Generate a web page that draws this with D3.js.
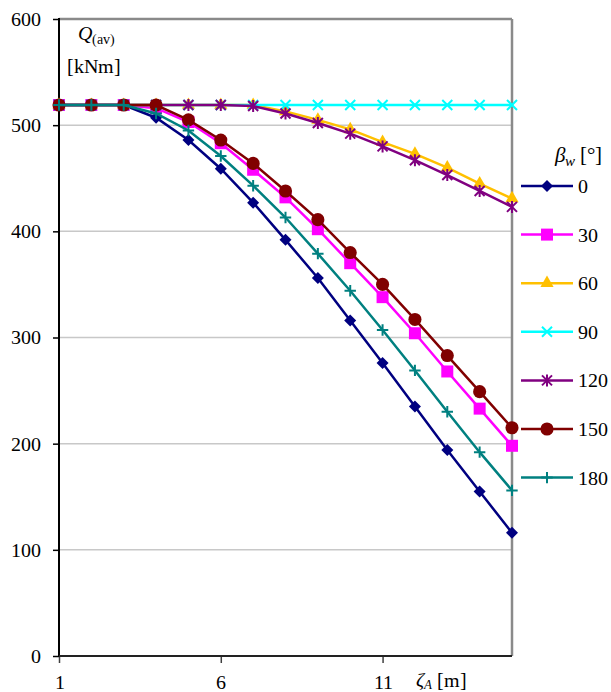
<!DOCTYPE html>
<html>
<head>
<meta charset="utf-8">
<script src="https://cdn.jsdelivr.net/npm/d3@7"></script>
<style>
  @font-face { font-family: "ChartSerif"; src: local("Liberation Serif"), local("LiberationSerif"), local("Tinos"); font-style: normal; }
  @font-face { font-family: "ChartSerif"; src: local("Liberation Serif Italic"), local("LiberationSerif-Italic"), local("Tinos Italic"); font-style: italic; }
  body { margin: 0; }
  #chart_div text { font-family: "ChartSerif", "Liberation Serif", Tinos, "Times New Roman"; }
</style>
</head>
<body>
<div id="chart_div"></div>
<script>
  // data
  var zetaA = [1, 2, 3, 4, 5, 6, 7, 8, 9, 10, 11, 12, 13, 14, 15];
  var betaLabels = ["0", "30", "60", "90", "120", "150", "180"];
  var q0   = [519, 519, 519, 507, 486, 459, 427, 392, 356, 316, 276, 235, 194, 155, 116];
  var q30  = [519, 519, 519, 516, 503, 483, 458, 432, 402, 370, 338, 304, 268, 233, 198];
  var q60  = [519, 519, 519, 519, 519, 519, 519, 513, 505, 496, 484, 473, 460, 445, 431];
  var q90  = [519, 519, 519, 519, 519, 519, 519, 519, 519, 519, 519, 519, 519, 519, 519];
  var q120 = [519, 519, 519, 519, 519, 519, 518, 511, 502, 492, 480, 467, 453, 438, 423];
  var q150 = [519, 519, 519, 519, 505, 486, 464, 438, 411, 380, 350, 317, 283, 249, 215];
  var q180 = [519, 519, 519, 511, 495, 471, 443, 413, 379, 344, 307, 269, 230, 192, 156];
  var yTicks = [0, 100, 200, 300, 400, 500, 600];
  var xTicks = [1, 6, 11];

  var allSeries = [q0, q30, q60, q90, q120, q150, q180];
  var colors = ["#000080", "#ff00ff", "#ffc000", "#00ffff", "#800080", "#800000", "#008080"];

  // custom marker shapes
  var symDiamond = { draw: function (c, s) { var r = Math.sqrt(s) / 2; c.moveTo(0, -r); c.lineTo(r, 0); c.lineTo(0, r); c.lineTo(-r, 0); c.closePath(); } };
  var symCross = { draw: function (c, s) { var r = Math.sqrt(s) / 2; c.moveTo(-r, -r); c.lineTo(r, r); c.moveTo(-r, r); c.lineTo(r, -r); } };
  var symStar = { draw: function (c, s) { var r = Math.sqrt(s) / 2; c.moveTo(-r, -r); c.lineTo(r, r); c.moveTo(-r, r); c.lineTo(r, -r); c.moveTo(0, -r * 1.2); c.lineTo(0, r * 1.2); } };
  var symPlus = { draw: function (c, s) { var r = Math.sqrt(s) / 2; c.moveTo(-r, 0); c.lineTo(r, 0); c.moveTo(0, -r); c.lineTo(0, r); } };

  var markers = [
    { type: symDiamond, size: 144, filled: true },
    { type: d3.symbolSquare, size: 144, filled: true },
    { type: d3.symbolTriangle, size: 75, filled: true },
    { type: symCross, size: 100, filled: false },
    { type: symStar, size: 100, filled: false },
    { type: d3.symbolCircle, size: 135, filled: true },
    { type: symPlus, size: 130, filled: false }
  ];

  var margin = { top: 19, right: 99, bottom: 36, left: 59 };
  var fullW = 611, fullH = 692;
  var width = fullW - margin.left - margin.right;
  var height = fullH - margin.top - margin.bottom;

  var root = d3.select("#chart_div")
    .append("svg")
    .attr("width", fullW)
    .attr("height", fullH);

  var svg = root.append("g")
    .attr("transform", "translate(" + margin.left + "," + margin.top + ")");

  var x = d3.scaleLinear().domain([1, 15]).range([0, width]);
  var y = d3.scaleLinear().domain([0, 600]).range([height, 0]);

  // gridlines
  svg.selectAll("line.grid")
    .data(yTicks.filter(function (d) { return d > 0 && d < 600; }))
    .enter()
    .append("line")
    .attr("class", "grid")
    .attr("x1", 0).attr("x2", width)
    .attr("y1", function (d) { return y(d); })
    .attr("y2", function (d) { return y(d); })
    .attr("stroke", "#c8c8c8")
    .attr("stroke-width", 1.5);

  // plot frame (top and right in grey)
  svg.append("line").attr("x1", 0).attr("x2", width).attr("y1", y(600)).attr("y2", y(600))
    .attr("stroke", "#8a8a8a").attr("stroke-width", 2.5);
  svg.append("line").attr("x1", width).attr("x2", width).attr("y1", 0).attr("y2", height)
    .attr("stroke", "#8a8a8a").attr("stroke-width", 2.5);

  // Y axis
  var yAxis = svg.append("g")
    .call(d3.axisLeft(y).tickValues(yTicks).tickSize(6).tickPadding(12))
    .attr("font-family", null)
    .attr("font-size", 20);
  yAxis.select(".domain").remove();
  yAxis.selectAll("line").attr("stroke", "#000").attr("stroke-width", 1.5);
  yAxis.selectAll("text").attr("fill", "#000");

  // X axis
  var xAxis = svg.append("g")
    .attr("transform", "translate(0," + height + ")")
    .call(d3.axisBottom(x).tickValues(xTicks).tickSize(7).tickPadding(12))
    .attr("font-family", null)
    .attr("font-size", 20);
  xAxis.select(".domain").remove();
  xAxis.selectAll("line").attr("stroke", "#404040").attr("stroke-width", 1.5);
  xAxis.selectAll("text").attr("fill", "#000");

  svg.append("line").attr("x1", 0).attr("x2", 0).attr("y1", -1).attr("y2", height + 1)
    .attr("stroke", "#000").attr("stroke-width", 2);
  svg.append("line").attr("x1", 0).attr("x2", width).attr("y1", height).attr("y2", height)
    .attr("stroke", "#222").attr("stroke-width", 2);

  // series
  var line = d3.line()
    .x(function (d, i) { return x(zetaA[i]); })
    .y(function (d) { return y(d); });

  allSeries.forEach(function (vals, k) {
    svg.append("path")
      .datum(vals)
      .attr("fill", "none")
      .attr("stroke", colors[k])
      .attr("stroke-width", 2.5)
      .attr("d", line);

    var m = markers[k];
    svg.selectAll("path.mk" + k)
      .data(vals)
      .enter()
      .append("path")
      .attr("class", "mk" + k)
      .attr("transform", function (d, i) { return "translate(" + x(zetaA[i]) + "," + y(d) + ")"; })
      .attr("d", d3.symbol().type(m.type).size(m.size))
      .attr("fill", m.filled ? colors[k] : "none")
      .attr("stroke", colors[k])
      .attr("stroke-width", m.filled ? 0 : 2);
  });

  // axis titles
  var qLab = root.append("text").attr("x", 78).attr("y", 40).attr("font-size", 20);
  qLab.append("tspan").attr("font-style", "italic").text("Q");
  qLab.append("tspan").attr("dy", 4).attr("font-size", 14).text("(av)");
  root.append("text").attr("x", 67).attr("y", 73).attr("font-size", 20).text("[kNm]");

  var zLab = root.append("text").attr("x", 416).attr("y", 687).attr("font-size", 20);
  zLab.append("tspan").attr("font-style", "italic").text("ζ");
  zLab.append("tspan").attr("dy", 2).attr("font-style", "italic").attr("font-size", 13).text("A");
  zLab.append("tspan").attr("dy", -2).text(" [m]");

  // legend
  var lt = root.append("text").attr("x", 555).attr("y", 162).attr("font-size", 21);
  lt.append("tspan").attr("font-style", "italic").text("β");
  lt.append("tspan").attr("dy", 4).attr("font-style", "italic").attr("font-size", 15).text("w");
  lt.append("tspan").attr("dy", -4).text(" [°]");

  var legend = root.selectAll("g.leg")
    .data(betaLabels)
    .enter()
    .append("g")
    .attr("class", "leg")
    .attr("transform", function (d, i) { return "translate(0," + (186 + i * 48.6) + ")"; });

  legend.append("line")
    .attr("x1", 521).attr("x2", 573)
    .attr("stroke", function (d, i) { return colors[i]; })
    .attr("stroke-width", 2.5);

  legend.append("path")
    .attr("transform", "translate(547,0)")
    .attr("d", function (d, i) { return d3.symbol().type(markers[i].type).size(markers[i].size)(); })
    .attr("fill", function (d, i) { return markers[i].filled ? colors[i] : "none"; })
    .attr("stroke", function (d, i) { return colors[i]; })
    .attr("stroke-width", function (d, i) { return markers[i].filled ? 0 : 2; });

  legend.append("text")
    .attr("x", 578)
    .attr("dy", "0.35em")
    .attr("font-size", 20)
    .text(function (d) { return d; });
</script>
</body>
</html>
